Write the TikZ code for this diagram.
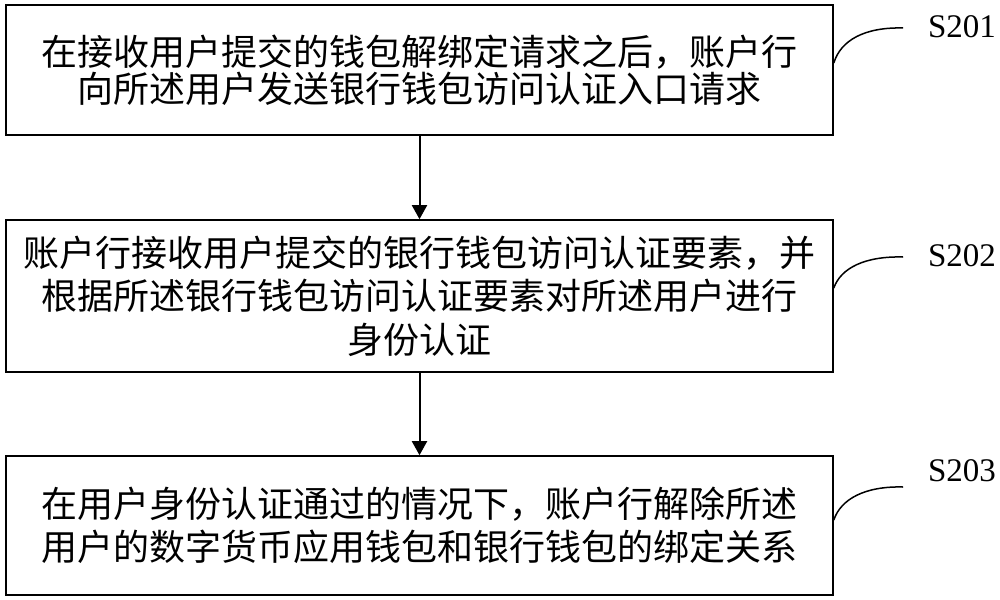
\documentclass[tikz,border=0pt]{standalone}
\usepackage{fontspec}
\setmainfont{Liberation Serif}
\newfontfamily\cjk{Noto Sans CJK SC}
\usepackage{tikz}
\usetikzlibrary{arrows.meta}
\newcommand{\boxwidth}{413.5pt}
\newcommand{\linewd}{.8pt}

\begin{document}
\begin{tikzpicture}[x=.5pt,y=-.5pt,
  stepbox/.style={draw, line width=\linewd, minimum width=\boxwidth, align=center,
    inner sep=0pt, font=\cjk\fontsize{18pt}{21.75pt}\selectfont},
  steplabel/.style={inner sep=0pt, font=\fontsize{16.5pt}{18pt}\selectfont},
  flow/.style={line width=1pt, -{Triangle[length=7pt,width=7.5pt]}},
  hook/.style={line width=.75pt}]

        \useasboundingbox (0,0) rectangle (1000,599);

        \node (s1) at (419.5,70) [stepbox, minimum height=65pt,
          font=\cjk\fontsize{18pt}{18.5pt}\selectfont]
          {在接收用户提交的钱包解绑定请求之后，账户行\\向所述用户发送银行钱包访问认证入口请求};
        \node (s2) at (419.5,296) [stepbox, minimum height=76pt]
          {账户行接收用户提交的银行钱包访问认证要素，并\\根据所述银行钱包访问认证要素对所述用户进行\\身份认证};
        \node (s3) at (419.5,525.5) [stepbox, minimum height=69.5pt]
          {在用户身份认证通过的情况下，账户行解除所述\\用户的数字货币应用钱包和银行钱包的绑定关系};

        \draw[flow] (s1) to (s2);
        \draw[flow] (s2) to (s3);

        \node (l1) at (962,27) [steplabel] {S201};
        \node (l2) at (962,256) [steplabel] {S202};
        \node (l3) at (962,471) [steplabel] {S203};

        \coordinate (e1) at (903,28);
        \coordinate (e2) at (903,257);
        \coordinate (e3) at (903,487);
        \draw[hook] ([yshift=3.5pt]s1.east) .. controls +(7,-23) and +(-38,-1) .. (e1);
        \draw[hook] ([yshift=4pt]s2.east) .. controls +(7,-20) and +(-38,-1) .. (e2);
        \draw[hook] ([yshift=2.75pt]s3.east) .. controls +(7,-21) and +(-38,-1) .. (e3);

\end{tikzpicture}
\end{document}
